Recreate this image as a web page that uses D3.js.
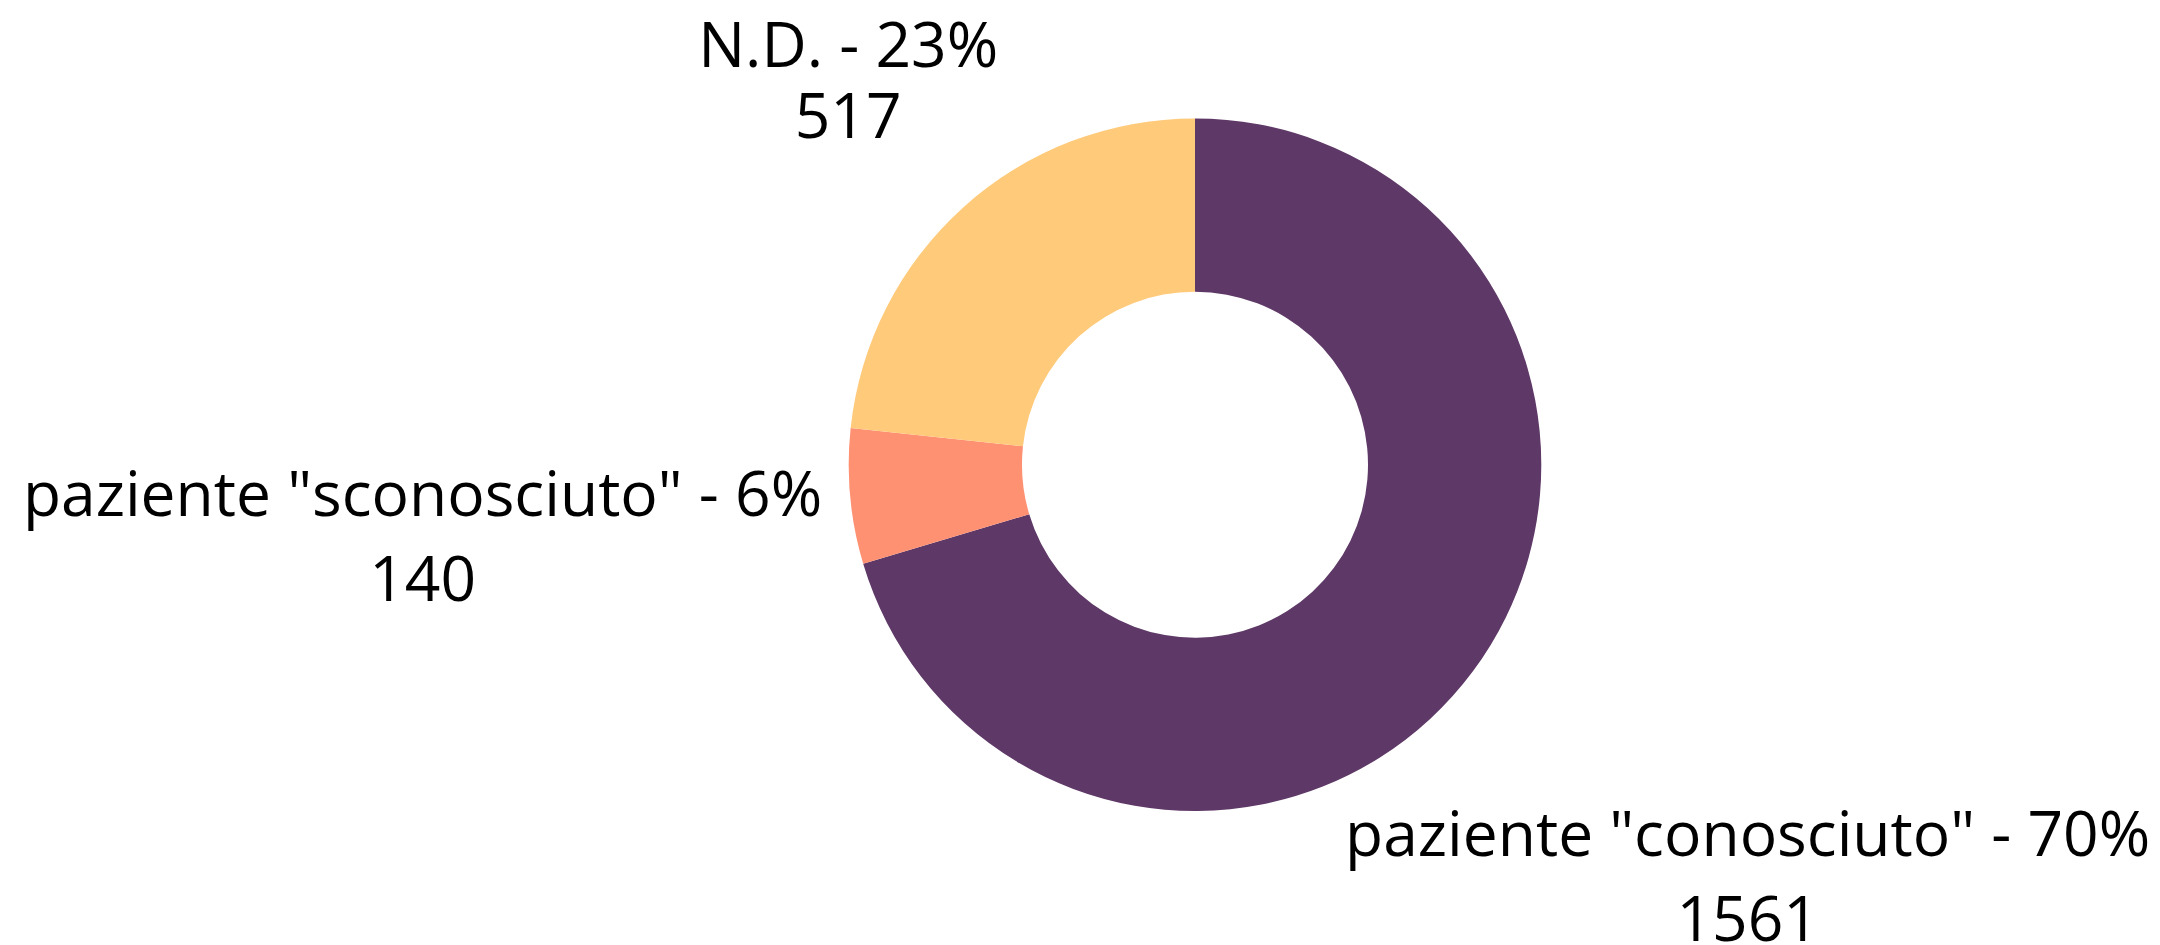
<!DOCTYPE html>
<html>
<head>
<meta charset="utf-8">
<script src="https://cdn.jsdelivr.net/npm/d3@7"></script>
<style>
  html, body { margin: 0; padding: 0; background: #ffffff; }
  svg { display: block; }
  text { font-family: "Open Sans", sans-serif; }
</style>
</head>
<body>
<svg id="chart" width="2160" height="945"></svg>
<script>
// ---- data ----
const categories = ['paziente "conosciuto"', 'paziente "sconosciuto"', 'N.D.'];
const values = [1561, 140, 517];
const colors = ['#5e3866', '#ff9173', '#ffca7a'];

// ---- layout ----
const W = 2160, H = 945;
const cx = 1195, cy = 464.7;
const outerR = 346.3, innerR = 173;
const labelDist = [1.99, 2.24, 1.498];   // label centre distance, in outer radii
const line1Up = [20.6, 20.3, 12.3];      // baseline of first line above label centre
const lineGap = [85.7, 85.7, 71.6];      // distance between the two baselines
const fontSize = 62.3;

const svg = d3.select('#chart');
const g = svg.append('g').attr('transform', `translate(${cx},${cy})`);

const data = categories.map((c, i) => ({ cat: c, value: values[i], color: colors[i], i }));
const total = d3.sum(values);

const pie = d3.pie().value(d => d.value).sort(null).startAngle(0).endAngle(2 * Math.PI);
const arc = d3.arc().innerRadius(innerR).outerRadius(outerR);
const arcs = pie(data);

g.selectAll('path.slice')
  .data(arcs)
  .join('path')
  .attr('class', 'slice')
  .attr('d', arc)
  .attr('fill', d => d.data.color);

const labels = g.selectAll('g.label')
  .data(arcs)
  .join('g')
  .attr('class', 'label')
  .attr('transform', d => {
    const a = (d.startAngle + d.endAngle) / 2;
    const r = outerR * labelDist[d.data.i];
    return `translate(${Math.sin(a) * r},${-Math.cos(a) * r})`;
  });

labels.append('text')
  .attr('text-anchor', 'middle')
  .attr('y', d => -line1Up[d.data.i])
  .attr('font-size', fontSize)
  .attr('fill', '#000')
  .text(d => `${d.data.cat} - ${Math.round(d.data.value / total * 100)}%`);

labels.append('text')
  .attr('text-anchor', 'middle')
  .attr('y', d => -line1Up[d.data.i] + lineGap[d.data.i])
  .attr('font-size', fontSize)
  .attr('fill', '#000')
  .text(d => d3.format('d')(d.data.value));
</script>
</body>
</html>
